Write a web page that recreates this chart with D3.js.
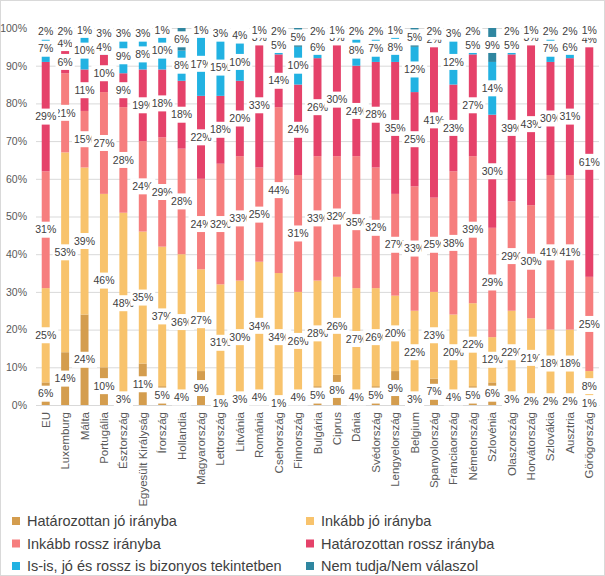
<!DOCTYPE html>
<html>
<head>
<meta charset="utf-8">
<script src="https://cdn.jsdelivr.net/npm/d3@7"></script>
<style>
  body { margin: 0; background: #fff; }
  svg { font-family: "Liberation Sans", Arial, sans-serif; }
</style>
</head>
<body>
<div id="chart"></div>
<script>
// országok (kategóriák)
const orszagok = ["EU", "Luxemburg", "Málta", "Portugália", "Észtország", "Egyesült Királyság",
  "Írország", "Hollandia", "Magyarország", "Lettország", "Litvánia", "Románia", "Csehország",
  "Finnország", "Bulgária", "Ciprus", "Dánia", "Svédország", "Lengyelország", "Belgium",
  "Spanyolország", "Franciaország", "Németország", "Szlovénia", "Olaszország", "Horvátország",
  "Szlovákia", "Ausztria", "Görögország"];

// sorozatok, alulról felfelé
const hatarozottanJo = [6, 14, 24, 10, 3, 11, 5, 4, 9, 1, 3, 4, 1, 4, 5, 8, 4, 5, 9, 3, 7, 4, 5, 6, 3, 2, 2, 2, 1];
const inkabbJo = [25, 53, 39, 46, 48, 35, 37, 36, 27, 31, 30, 34, 34, 26, 28, 26, 27, 26, 20, 22, 23, 20, 22, 12, 22, 21, 18, 18, 8];
const inkabbRossz = [31, 21, 15, 27, 28, 24, 29, 28, 24, 32, 33, 25, 44, 31, 33, 32, 35, 32, 27, 33, 25, 38, 39, 29, 29, 30, 41, 41, 25];
const hatarozottanRossz = [29, 6, 11, 10, 9, 19, 18, 18, 22, 18, 20, 33, 14, 24, 26, 30, 24, 28, 35, 25, 41, 23, 27, 30, 39, 43, 30, 31, 61];
const isIs = [7, 4, 10, 4, 9, 8, 10, 8, 17, 15, 10, 3, 5, 10, 6, 3, 8, 7, 8, 12, 2, 12, 5, 14, 5, 3, 7, 6, 4];
const nemTudja = [2, 2, 1, 3, 3, 3, 1, 6, 1, 3, 4, 1, 2, 5, 2, 1, 2, 2, 1, 5, 2, 3, 2, 9, 2, 1, 2, 2, 1];

const sorozatNevek = ["Határozottan jó irányba", "Inkább jó irányba", "Inkább rossz irányba",
  "Határozottan rossz irányba", "Is-is, jó és rossz is bizonyos tekintetben", "Nem tudja/Nem válaszol"];
const szinek = ["#d49d4e", "#f8c36c", "#f67e7e", "#e5426a", "#22b2e2", "#2f86a0"];
const yTicks = [0, 10, 20, 30, 40, 50, 60, 70, 80, 90, 100];

const sorozatok = [hatarozottanJo, inkabbJo, inkabbRossz, hatarozottanRossz, isIs, nemTudja];
const sorok = orszagok.map((o, i) => {
  const sor = { orszag: o };
  sorozatNevek.forEach((n, j) => sor[n] = sorozatok[j][i]);
  return sor;
});

const W = 605, H = 576;
const plot = { left: 36, right: 599, top: 28, bottom: 405 };

const svg = d3.select("#chart").append("svg")
  .attr("width", W)
  .attr("height", H);

// keret
svg.append("rect")
  .attr("x", 0.5).attr("y", 0.5)
  .attr("width", W - 1).attr("height", H - 1)
  .attr("fill", "#fff")
  .attr("stroke", "#d9d9d9");

const x = d3.scaleBand()
  .domain(orszagok)
  .range([plot.left, plot.right])
  .paddingInner(0.59)
  .paddingOuter(0.295);

const y = d3.scaleLinear()
  .domain([0, 100])
  .range([plot.bottom, plot.top]);

// y tengely + rácsvonalak
const yAxis = svg.append("g")
  .attr("transform", `translate(${plot.left},0)`)
  .call(d3.axisLeft(y).tickValues(yTicks).tickSize(-(plot.right - plot.left)).tickPadding(9).tickFormat(d => d + "%"));
yAxis.select(".domain").remove();
yAxis.selectAll(".tick line").attr("stroke", "#d9d9d9");
yAxis.selectAll(".tick text")
  .attr("fill", "#595959")
  .style("font-size", "10.5px");

// x tengely
const xAxis = svg.append("g")
  .attr("transform", `translate(0,${plot.bottom})`)
  .call(d3.axisBottom(x).tickSize(0));
xAxis.select(".domain").attr("stroke", "#d9d9d9");
xAxis.selectAll(".tick text")
  .attr("transform", "rotate(-90)")
  .attr("text-anchor", "end")
  .attr("x", -7)
  .attr("y", 0)
  .attr("dy", "0.35em")
  .attr("fill", "#595959")
  .style("font-size", "11.5px");

// oszlopok
const stack = d3.stack().keys(sorozatNevek);
const retegek = stack(sorok);

svg.append("g").selectAll("g")
  .data(retegek)
  .enter().append("g")
  .attr("fill", (d, i) => szinek[i])
  .selectAll("rect")
  .data(d => d)
  .enter().append("rect")
  .attr("x", d => x(d.data.orszag))
  .attr("y", d => y(d[1]))
  .attr("width", x.bandwidth())
  .attr("height", d => y(d[0]) - y(d[1]));

// adatcímkék fehér háttérrel
const cimkek = svg.append("g");
retegek.forEach(reteg => {
  reteg.forEach(d => {
    const cx = x(d.data.orszag) + x.bandwidth() / 2;
    const cy = y((d[0] + d[1]) / 2);
    const g = cimkek.append("g").attr("transform", `translate(${cx},${cy})`);
    const bg = g.append("rect").attr("fill", "#fff");
    const t = g.append("text")
      .attr("text-anchor", "middle")
      .attr("dy", "0.35em")
      .attr("fill", "#404040")
      .style("font-size", "10.5px")
      .text((d[1] - d[0]) + "%");
    const w = t.node().getComputedTextLength();
    bg.attr("x", -w / 2 - 2).attr("y", -8).attr("width", w + 4).attr("height", 16);
  });
});

// jelmagyarázat
const legend = svg.append("g");
sorozatNevek.forEach((n, i) => {
  const col = i % 2, row = Math.floor(i / 2);
  const lx = col === 0 ? 12 : 306;
  const ly = 521 + row * 22.5;
  legend.append("rect")
    .attr("x", lx).attr("y", ly - 4)
    .attr("width", 8).attr("height", 8)
    .attr("fill", szinek[i]);
  legend.append("text")
    .attr("x", lx + 15).attr("y", ly)
    .attr("dy", "0.35em")
    .attr("fill", "#404040")
    .style("font-size", "14.5px")
    .text(n);
});
</script>
</body>
</html>
